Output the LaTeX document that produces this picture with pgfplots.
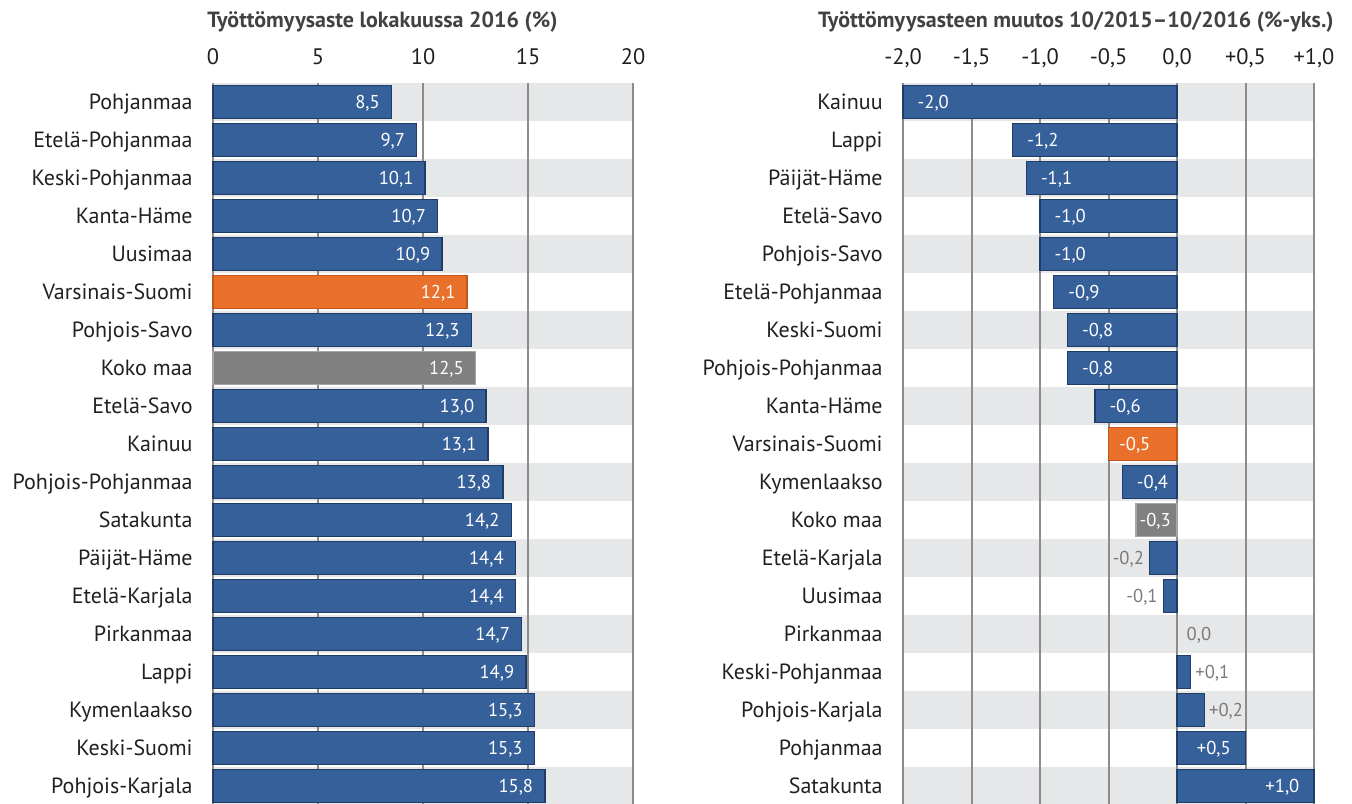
\documentclass[border=0pt]{standalone}
\usepackage{pgfplots}
\pgfplotsset{compat=1.18}
\usepackage{fontspec}
\setmainfont{PT Sans}
\definecolor{barblue}{HTML}{36609A}
\definecolor{barblueedge}{HTML}{1F3D66}
\definecolor{barorange}{HTML}{E8702A}
\definecolor{barorangeedge}{HTML}{C4561A}
\definecolor{bargray}{HTML}{808080}
\definecolor{bargrayedge}{HTML}{A5A5A5}
\definecolor{bandc}{HTML}{E6E7E8}
\definecolor{gridc}{HTML}{8C8C8C}
\definecolor{txt}{HTML}{231F20}
\definecolor{lbgray}{HTML}{7A7A7A}

\pgfplotsset{
  panel/.style={
    scale only axis, height=360pt, ymin=-0.5, ymax=18.45, y dir=reverse,
    clip=false, axis line style={draw=none}, major tick length=0pt,
    xticklabel pos=top,
    ytick={0,...,18},
    xticklabel style={anchor=base, inner sep=0pt, yshift=9.5pt, font=\fontsize{11.2}{13}\selectfont, text=txt},
    yticklabel style={anchor=base east, inner sep=0pt, xshift=-10pt, yshift=-3.8pt, font=\fontsize{11}{13}\selectfont, text=txt},
  },
  mybar/.style={xbar, bar shift=0pt, bar width=16.5pt, line width=0.7pt, forget plot},
  bandbar/.style={xbar, bar shift=0pt, bar width=19pt, fill=bandc, draw=none, forget plot},
  gridl/.style={gridc, line width=1pt, forget plot},
  lab/.style={nodes near coords, point meta=explicit symbolic,
    every node near coord/.append style={font=\fontsize{9.3}{11}\selectfont, inner sep=0pt, yshift=-3.2pt, #1}},
}

\begin{document}
\begin{tikzpicture}
\path[use as bounding box] (0,0) rectangle (676pt,-401.5pt);

\node[anchor=base west, inner sep=0pt, font=\fontsize{11}{13}\selectfont\bfseries, text=txt!85] at (103.5pt,-13.5pt) {Työttömyysaste lokakuussa 2016 (\%)};
\node[anchor=base east, inner sep=0pt, font=\fontsize{11}{13}\selectfont\bfseries, text=txt!85] at (667pt,-13.5pt) {Työttömyysasteen muutos 10/2015–10/2016 (\%-yks.)};

% ---------------- Left panel ----------------
\begin{axis}[panel, at={(106.5pt,-41.5pt)}, anchor=north west, width=210pt,
  xmin=0, xmax=20, xtick={0,5,10,15,20}, xticklabels={0,5,10,15,20},
  yticklabels={Pohjanmaa,Etelä-Pohjanmaa,Keski-Pohjanmaa,Kanta-Häme,Uusimaa,Varsinais-Suomi,Pohjois-Savo,Koko maa,Etelä-Savo,Kainuu,Pohjois-Pohjanmaa,Satakunta,Päijät-Häme,Etelä-Karjala,Pirkanmaa,Lappi,Kymenlaakso,Keski-Suomi,Pohjois-Karjala}]
\addplot[bandbar] coordinates {(20,0) (20,2) (20,4) (20,6) (20,8) (20,10) (20,12) (20,14) (20,16) (20,18)};
\addplot[gridl] coordinates {(0,-0.5) (0,18.6)};
\addplot[gridl] coordinates {(5,-0.5) (5,18.6)};
\addplot[gridl] coordinates {(10,-0.5) (10,18.6)};
\addplot[gridl] coordinates {(15,-0.5) (15,18.6)};
\addplot[gridl] coordinates {(20,-0.5) (20,18.6)};
\addplot[mybar, fill=barblue, draw=barblueedge, lab={anchor=base east, xshift=-5.5pt, text=white}] table[x=x, y=y, meta=l] {
x y l
8.5 0 8,5
9.7 1 9,7
10.1 2 10,1
10.7 3 10,7
10.9 4 10,9
12.3 6 12,3
13.0 8 13,0
13.1 9 13,1
13.8 10 13,8
14.2 11 14,2
14.4 12 14,4
14.4 13 14,4
14.7 14 14,7
14.9 15 14,9
15.3 16 15,3
15.3 17 15,3
15.8 18 15,8
};
\addplot[mybar, fill=barorange, draw=barorangeedge, lab={anchor=base east, xshift=-5.5pt, text=white}] table[x=x, y=y, meta=l] {
x y l
12.1 5 12,1
};
\addplot[mybar, fill=bargray, draw=bargrayedge, lab={anchor=base east, xshift=-5.5pt, text=white}] table[x=x, y=y, meta=l] {
x y l
12.5 7 12,5
};
\end{axis}

% ---------------- Right panel ----------------
\begin{axis}[panel, at={(451.5pt,-41.5pt)}, anchor=north west, width=205.5pt,
  xmin=-2, xmax=1, xtick={-2,-1.5,-1,-0.5,0,0.5,1}, xticklabels={{-2,0},{-1,5},{-1,0},{-0,5},{0,0},{+0,5},{+1,0}},
  yticklabels={Kainuu,Lappi,Päijät-Häme,Etelä-Savo,Pohjois-Savo,Etelä-Pohjanmaa,Keski-Suomi,Pohjois-Pohjanmaa,Kanta-Häme,Varsinais-Suomi,Kymenlaakso,Koko maa,Etelä-Karjala,Uusimaa,Pirkanmaa,Keski-Pohjanmaa,Pohjois-Karjala,Pohjanmaa,Satakunta}]
\addplot[bandbar] coordinates {(-2,0) (-2,2) (-2,4) (-2,6) (-2,8) (-2,10) (-2,12) (-2,14) (-2,16) (-2,18)};
\addplot[bandbar] coordinates {(1,0) (1,2) (1,4) (1,6) (1,8) (1,10) (1,12) (1,14) (1,16) (1,18)};
\addplot[gridl] coordinates {(-2,-0.5) (-2,18.6)};
\addplot[gridl] coordinates {(-1.5,-0.5) (-1.5,18.6)};
\addplot[gridl] coordinates {(-1,-0.5) (-1,18.6)};
\addplot[gridl] coordinates {(-0.5,-0.5) (-0.5,18.6)};
\addplot[gridl] coordinates {(0,-0.5) (0,18.6)};
\addplot[gridl] coordinates {(0.5,-0.5) (0.5,18.6)};
\addplot[gridl] coordinates {(1,-0.5) (1,18.6)};
\addplot[mybar, fill=barblue, draw=barblueedge, lab={anchor=base west, xshift=7pt, text=white}] table[x=x, y=y, meta=l] {
x y l
-2.0 0 -2,0
-1.2 1 -1,2
-1.1 2 -1,1
-1.0 3 -1,0
-1.0 4 -1,0
-0.9 5 -0,9
-0.8 6 -0,8
-0.8 7 -0,8
-0.6 8 -0,6
-0.4 10 -0,4
};
\addplot[mybar, fill=barorange, draw=barorangeedge, lab={anchor=base west, xshift=5pt, text=white}] table[x=x, y=y, meta=l] {
x y l
-0.5 9 -0,5
};
\addplot[mybar, fill=bargray, draw=bargrayedge, lab={anchor=base west, xshift=1.5pt, text=white}] table[x=x, y=y, meta=l] {
x y l
-0.3 11 -0,3
};
\addplot[mybar, fill=barblue, draw=barblueedge, lab={anchor=base east, xshift=-2.5pt, text=lbgray}] table[x=x, y=y, meta=l] {
x y l
-0.2 12 -0,2
-0.1 13 -0,1
};
\addplot[mybar, fill=none, draw=none, lab={anchor=base west, xshift=4.5pt, text=lbgray}] table[x=x, y=y, meta=l] {
x y l
0.0 14 0,0
};
\addplot[mybar, fill=barblue, draw=barblueedge, lab={anchor=base west, xshift=2pt, text=lbgray}] table[x=x, y=y, meta=l] {
x y l
0.1 15 +0,1
0.2 16 +0,2
};
\addplot[mybar, fill=barblue, draw=barblueedge, lab={anchor=base east, xshift=-7pt, text=white}] table[x=x, y=y, meta=l] {
x y l
0.5 17 +0,5
1.0 18 +1,0
};
\end{axis}
\end{tikzpicture}
\end{document}
